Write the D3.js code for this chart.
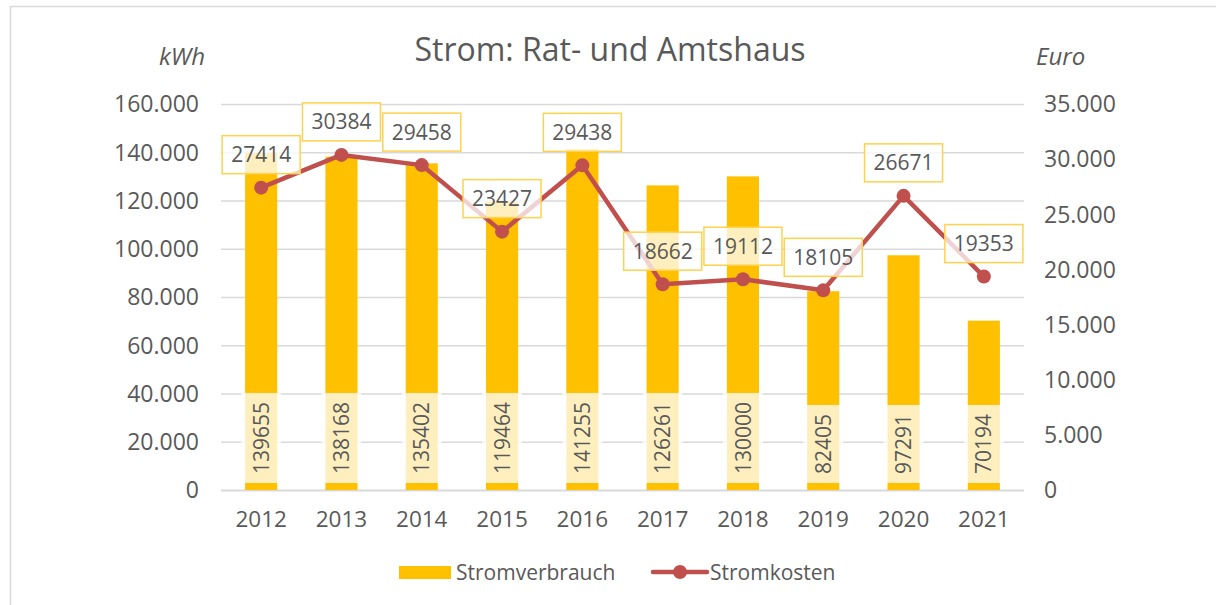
<!DOCTYPE html>
<html>
<head>
<meta charset="utf-8">
<script src="https://cdn.jsdelivr.net/npm/d3@7"></script>
<style>
  body { margin: 0; background: #fff; }
  svg text { font-family: "Open Sans", "Noto Sans", sans-serif; fill: #595959; }
</style>
</head>
<body>
<svg id="chart" width="1216" height="605"></svg>
<script>
// data
var years = ["2012", "2013", "2014", "2015", "2016", "2017", "2018", "2019", "2020", "2021"];
var verbrauch = [139655, 138168, 135402, 119464, 141255, 126261, 130000, 82405, 97291, 70194];
var kosten = [27414, 30384, 29458, 23427, 29438, 18662, 19112, 18105, 26671, 19353];
var leftTicks = [0, 20000, 40000, 60000, 80000, 100000, 120000, 140000, 160000];
var rightTicks = [0, 5000, 10000, 15000, 20000, 25000, 30000, 35000];

var gold = "#ffc000", red = "#c0504d", grid = "#d9d9d9";

var svg = d3.select("#chart");

// outer chart frame (only left/top visible in the crop)
svg.append("rect")
    .attr("x", 10.5).attr("y", 6.5)
    .attr("width", 1240).attr("height", 640)
    .attr("fill", "none")
    .attr("stroke", grid)
    .attr("stroke-width", 1.5);

var x = d3.scaleBand().domain(years).range([221, 1024]).paddingInner(0.6).paddingOuter(0.3);
var yL = d3.scaleLinear().domain([0, 160000]).range([490, 104]);
var yR = d3.scaleLinear().domain([0, 35000]).range([490, 104]);
var fmt = function(d) { return d3.format(",")(d).replace(/,/g, "."); };

// gridlines
svg.append("g").selectAll("line")
    .data(leftTicks)
  .enter().append("line")
    .attr("x1", 221).attr("x2", 1024)
    .attr("y1", function(d) { return yL(d) + 0.5; })
    .attr("y2", function(d) { return yL(d) + 0.5; })
    .attr("stroke", grid)
    .attr("stroke-width", function(d) { return d === 0 ? 2 : 1.5; });

// left axis labels
svg.append("g").selectAll("text")
    .data(leftTicks)
  .enter().append("text")
    .attr("x", 199)
    .attr("y", function(d) { return yL(d); })
    .attr("dy", "0.36em")
    .attr("text-anchor", "end")
    .style("font-size", "23px")
    .text(function(d) { return fmt(d); });

// right axis labels
svg.append("g").selectAll("text")
    .data(rightTicks)
  .enter().append("text")
    .attr("x", 1044)
    .attr("y", function(d) { return yR(d); })
    .attr("dy", "0.36em")
    .style("font-size", "23px")
    .text(function(d) { return fmt(d); });

// category labels
svg.append("g").selectAll("text")
    .data(years)
  .enter().append("text")
    .attr("x", function(d) { return x(d) + x.bandwidth() / 2; })
    .attr("y", 527)
    .attr("text-anchor", "middle")
    .style("font-size", "22.5px")
    .text(function(d) { return d; });

// title + axis titles
svg.append("text")
    .attr("x", 610).attr("y", 61)
    .attr("text-anchor", "middle")
    .style("font-size", "32px")
    .text("Strom: Rat- und Amtshaus");
svg.append("text")
    .attr("x", 205).attr("y", 65)
    .attr("text-anchor", "end")
    .style("font-size", "24px").style("font-style", "italic")
    .text("kWh");
svg.append("text")
    .attr("x", 1036).attr("y", 65)
    .style("font-size", "24px").style("font-style", "italic")
    .text("Euro");

// bars
var bars = svg.append("g").selectAll("rect")
    .data(verbrauch)
  .enter().append("rect")
    .attr("x", function(d, i) { return x(years[i]); })
    .attr("width", x.bandwidth())
    .attr("y", function(d) { return yL(d); })
    .attr("height", function(d) { return yL(0) - yL(d); })
    .attr("fill", gold);

// bar value labels, rotated, at the inner base
var barLab = svg.append("g").selectAll("g")
    .data(verbrauch)
  .enter().append("g")
    .attr("transform", function(d, i) {
      return "translate(" + (x(years[i]) + x.bandwidth() / 2) + "," + (yL(0) - 7) + ") rotate(-90)";
    });
barLab.append("text")
    .attr("x", 9)
    .attr("dy", "0.36em")
    .style("font-size", "21px")
    .text(function(d) { return d; })
    .each(function() {
      var w = this.getComputedTextLength();
      d3.select(this.parentNode).insert("rect", "text")
          .attr("x", 0).attr("y", -20)
          .attr("width", w + 18).attr("height", 40)
          .attr("fill", "#fff").attr("fill-opacity", 0.75);
    });

// cost line
var line = d3.line()
    .x(function(d, i) { return x(years[i]) + x.bandwidth() / 2; })
    .y(function(d) { return yR(d); });
svg.append("path")
    .datum(kosten)
    .attr("d", line)
    .attr("fill", "none")
    .attr("stroke", red)
    .attr("stroke-width", 4.5)
    .attr("stroke-linejoin", "round");
svg.append("g").selectAll("circle")
    .data(kosten)
  .enter().append("circle")
    .attr("cx", function(d, i) { return x(years[i]) + x.bandwidth() / 2; })
    .attr("cy", function(d) { return yR(d); })
    .attr("r", 7)
    .attr("fill", red);

// cost labels in boxes above the points
var costLab = svg.append("g").selectAll("g")
    .data(kosten)
  .enter().append("g")
    .attr("transform", function(d, i) {
      return "translate(" + (x(years[i]) + x.bandwidth() / 2) + "," + (yR(d) - 33) + ")";
    });
costLab.append("rect")
    .attr("x", -39).attr("y", -19)
    .attr("width", 78).attr("height", 38)
    .attr("fill", "#fff").attr("fill-opacity", 0.75)
    .attr("stroke", "#ffd24d").attr("stroke-width", 1.5);
costLab.append("text")
    .attr("text-anchor", "middle")
    .attr("dy", "0.36em")
    .style("font-size", "21px")
    .text(function(d) { return d; });

// legend
var leg = svg.append("g");
leg.append("rect")
    .attr("x", 399).attr("y", 566)
    .attr("width", 52).attr("height", 13)
    .attr("fill", gold);
leg.append("text")
    .attr("x", 456).attr("y", 572).attr("dy", "0.36em")
    .style("font-size", "21px")
    .text("Stromverbrauch");
leg.append("line")
    .attr("x1", 653).attr("x2", 707)
    .attr("y1", 572).attr("y2", 572)
    .attr("stroke", red).attr("stroke-width", 4.5)
    .attr("stroke-linecap", "round");
leg.append("circle")
    .attr("cx", 680).attr("cy", 572).attr("r", 7)
    .attr("fill", red);
leg.append("text")
    .attr("x", 710).attr("y", 572).attr("dy", "0.36em")
    .style("font-size", "21px")
    .text("Stromkosten");
</script>
</body>
</html>
